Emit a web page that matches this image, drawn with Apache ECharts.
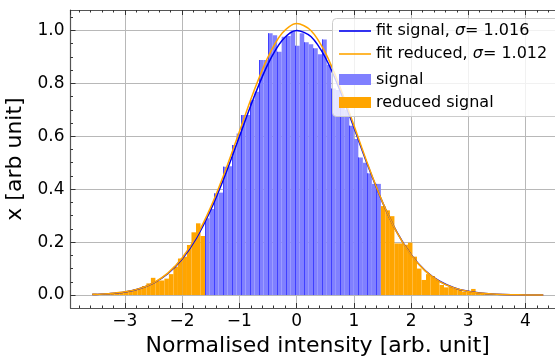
<!DOCTYPE html>
<html>
<head>
<meta charset="utf-8">
<script src="https://cdn.jsdelivr.net/npm/echarts@6/dist/echarts.min.js"></script>
<style>
  html, body { margin: 0; padding: 0; background: #fff; }
  #chart { width: 555px; height: 356px; }
</style>
</head>
<body>
<div id="chart"></div>
<script>
// histogram: 100 bins starting at binStart, width binWidth
const binStart = -3.57;
const binWidth = 0.0788;

// left tail (bins 0..24), reduced signal
const leftTail = [0.006, 0.004, 0.004, 0.005, 0.008, 0.011, 0.010, 0.013, 0.016, 0.021,
  0.025, 0.034, 0.044, 0.065, 0.053, 0.055, 0.062, 0.079, 0.107, 0.138,
  0.145, 0.189, 0.237, 0.271, 0.223];
// core (bins 25..63), signal
const core = [0.290, 0.325, 0.384, 0.387, 0.485, 0.487, 0.567, 0.610, 0.680, 0.680,
  0.737, 0.768, 0.888, 0.888, 0.989, 0.982, 0.919, 0.976, 0.979, 1.000,
  0.942, 0.989, 0.955, 0.948, 0.932, 0.910, 0.966, 0.870, 0.780, 0.775,
  0.710, 0.700, 0.640, 0.590, 0.520, 0.500, 0.460, 0.420, 0.420];
// right tail (bins 64..99), reduced signal
const rightTail = [0.336, 0.320, 0.298, 0.195, 0.195, 0.190, 0.198, 0.145, 0.100, 0.057,
  0.079, 0.072, 0.057, 0.038, 0.029, 0.031, 0.024, 0.020, 0.013, 0.013,
  0.023, 0.009, 0.008, 0.006, 0.005, 0.004, 0.003, 0.002, 0.002, 0.001,
  0.001, 0.001, 0.001, 0.001, 0.001, 0.001];

// fitted curves
const curveX = [-3.57, -3.5, -3.25, -3.0, -2.75, -2.5, -2.25, -2.0, -1.75, -1.5, -1.25, -1.0, -0.75,
  -0.5, -0.25, 0, 0.25, 0.5, 0.75, 1.0, 1.25, 1.5, 1.75, 2.0, 2.25, 2.5, 2.75, 3.0, 3.25, 3.5, 3.75, 4.0, 4.31];
const fitSignal = [0.0019, 0.0024, 0.0055, 0.0117, 0.0237, 0.0450, 0.0806, 0.1359, 0.2155, 0.3218, 0.4522, 0.5982, 0.7447,
  0.8728, 0.9627, 0.9996, 0.9768, 0.8985, 0.7779, 0.6340, 0.4863, 0.3511, 0.2386, 0.1526, 0.0919, 0.0521, 0.0278, 0.0139, 0.0066, 0.0029, 0.0012, 0.0005, 0.0001];
const fitReduced = [0.0019, 0.0024, 0.0056, 0.0120, 0.0242, 0.0462, 0.0829, 0.1400, 0.2222, 0.3321, 0.4668, 0.6174, 0.7682,
  0.8991, 0.9901, 1.0258, 0.9998, 0.9168, 0.7910, 0.6420, 0.4902, 0.3521, 0.2380, 0.1513, 0.0905, 0.0510, 0.0270, 0.0134, 0.0063, 0.0028, 0.0012, 0.0005, 0.0001];

const sigmaSignal = '1.016';
const sigmaReduced = '1.012';

const FONT = 'DejaVu Sans';
const xMin = -3.95, xMax = 4.69;
const yMin = -0.049, yMax = 1.077;

function binData(values, firstBin) {
  return values.map((h, k) => {
    const i = firstBin + k;
    return [binStart + i * binWidth, binStart + (i + 1) * binWidth, h];
  });
}
const signalData = binData(core, 25);
const reducedData = binData(leftTail, 0).concat(binData(rightTail, 64));

// minor ticks
const minorX = [];
for (let v = -19; v <= 23; v++) { if (v % 5 !== 0) minorX.push(v / 5); }
const minorY = [];
for (let v = 0; v <= 21; v++) { if (v % 4 !== 0) minorY.push(v / 20); }

function renderBar(params, api) {
  const top = api.coord([api.value(0), api.value(2)]);
  const bot = api.coord([api.value(1), 0]);
  const children = [{
    type: 'rect',
    shape: { x: top[0], y: top[1], width: bot[0] - top[0], height: bot[1] - top[1] },
    style: { fill: api.visual('color') }
  }];
  if (params.seriesName === 'signal' && params.dataIndex % 2 === 0) {
    const xl = Math.round(top[0]) + 0.5;
    children.push({
      type: 'line',
      shape: { x1: xl, y1: top[1], x2: xl, y2: bot[1] },
      style: { stroke: '#4040ff', lineWidth: 1 }
    });
  }
  return { type: 'group', children: children };
}

const legendText = {
  fontFamily: FONT, fontSize: 16, color: '#000', lineHeight: 20,
  rich: {
    n: { fontFamily: FONT, fontSize: 16, color: '#000', lineHeight: 20 },
    i: { fontFamily: FONT, fontSize: 16, color: '#000', lineHeight: 20, fontStyle: 'italic' }
  }
};

const axisCommon = {
  type: 'value',
  axisLine: { show: false, onZero: false },
  axisLabel: { show: false },
  splitLine: { show: false }
};

const option = {
  animation: false,
  grid: { left: 70.5, top: 10, width: 494.5, height: 298, containLabel: false, outerBoundsMode: 'none' },
  xAxis: [
    {
      type: 'value', min: xMin, max: xMax, splitNumber: 7, position: 'bottom',
      name: 'Normalised intensity [arb. unit]', nameLocation: 'middle', nameGap: 24,
      nameTextStyle: { fontFamily: FONT, fontSize: 22, color: '#000' },
      axisLine: { onZero: false, lineStyle: { color: '#555', width: 1.2 } },
      axisTick: { inside: true, length: 5, lineStyle: { color: '#333', width: 1 } },
      axisLabel: {
        fontFamily: FONT, fontSize: 17, color: '#000', margin: 5,
        showMinLabel: false, showMaxLabel: false,
        formatter: v => (v < 0 ? '\u2212' : '') + Math.abs(Math.round(v))
      },
      splitLine: { show: true, lineStyle: { color: '#b8b8b8', width: 1 } }
    },
    Object.assign({}, axisCommon, {
      min: xMin, max: xMax, position: 'bottom',
      axisTick: { inside: true, length: 2.5, customValues: minorX, lineStyle: { color: '#333' } }
    }),
    Object.assign({}, axisCommon, {
      min: xMin, max: xMax, splitNumber: 7, position: 'top',
      axisLine: { show: true, onZero: false, lineStyle: { color: '#555', width: 1.2 } },
      axisTick: { inside: true, length: 5, lineStyle: { color: '#333' } }
    }),
    Object.assign({}, axisCommon, {
      min: xMin, max: xMax, position: 'top',
      axisTick: { inside: true, length: 2.5, customValues: minorX, lineStyle: { color: '#333' } }
    })
  ],
  yAxis: [
    {
      type: 'value', min: yMin, max: yMax, splitNumber: 5, position: 'left',
      name: 'x [arb unit]', nameLocation: 'middle', nameGap: 36,
      nameTextStyle: { fontFamily: FONT, fontSize: 22, color: '#000' },
      axisLine: { show: true, onZero: false, lineStyle: { color: '#555', width: 1.2 } },
      axisTick: { show: true, inside: true, length: 5, lineStyle: { color: '#333' } },
      axisLabel: {
        fontFamily: FONT, fontSize: 17, color: '#000', margin: 6,
        showMinLabel: false, showMaxLabel: false,
        formatter: v => v.toFixed(1)
      },
      splitLine: { show: true, lineStyle: { color: '#b8b8b8', width: 1 } }
    },
    Object.assign({}, axisCommon, {
      min: yMin, max: yMax, position: 'left',
      axisTick: { show: true, inside: true, length: 2.5, customValues: minorY, lineStyle: { color: '#333' } }
    })
  ],
  graphic: [{
    type: 'rect', left: 332, top: 18, z: 100,
    shape: { width: 240, height: 98, r: 4 },
    style: { fill: 'rgba(255,255,255,0.8)', stroke: '#cccccc', lineWidth: 1 }
  }],
  legend: [
    {
      data: [{ name: 'fit signal', icon: 'rect' }, { name: 'fit reduced', icon: 'rect' }],
      orient: 'vertical', left: 339, top: 21, padding: 0, z: 101,
      itemWidth: 32, itemHeight: 1.6, itemGap: 3, itemTextGap: 15,
      selectedMode: false, textStyle: legendText,
      formatter: name => name === 'fit signal'
        ? '{n|fit signal, }{i|σ}{n|= ' + sigmaSignal + '}'
        : '{n|fit reduced, }{i|σ}{n|= ' + sigmaReduced + '}'
    },
    {
      data: [{ name: 'signal', icon: 'rect' }, { name: 'reduced signal', icon: 'rect' }],
      orient: 'vertical', left: 339, top: 69.5, padding: 0, z: 101,
      itemWidth: 32, itemHeight: 11, itemGap: 3, itemTextGap: 15,
      selectedMode: false, textStyle: legendText
    }
  ],
  series: [
    {
      name: 'signal', type: 'custom', renderItem: renderBar, clip: true,
      itemStyle: { color: '#8080ff' },
      encode: { x: [0, 1], y: 2 },
      data: signalData, z: 1
    },
    {
      name: 'reduced signal', type: 'custom', renderItem: renderBar, clip: true,
      itemStyle: { color: '#ffa500' },
      encode: { x: [0, 1], y: 2 },
      data: reducedData, z: 1
    },
    {
      name: 'fit signal', type: 'line', smooth: 0.3, showSymbol: false, symbol: 'none',
      color: '#0000ee', lineStyle: { width: 1.5, color: '#0000ee' },
      data: curveX.map((x, k) => [x, fitSignal[k]]), z: 3
    },
    {
      name: 'fit reduced', type: 'line', smooth: 0.3, showSymbol: false, symbol: 'none',
      color: '#ffa500', lineStyle: { width: 1.5, color: '#ffa500' },
      data: curveX.map((x, k) => [x, fitReduced[k]]), z: 4
    }
  ]
};

const myChart = echarts.init(document.getElementById('chart'));
myChart.setOption(option);
window.addEventListener('resize', myChart.resize);
</script>
</body>
</html>
